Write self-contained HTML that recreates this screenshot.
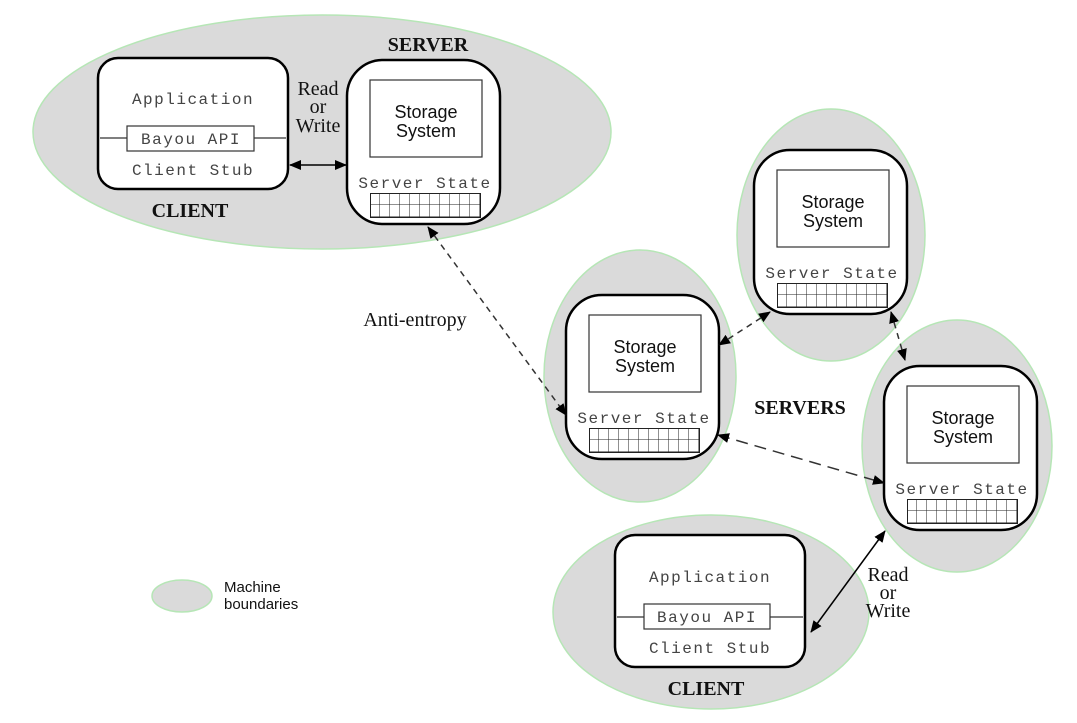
<!DOCTYPE html>
<html><head><meta charset="utf-8"><style>
html,body{margin:0;padding:0;background:#fff;}
svg{display:block;}
.mono{font-family:"Liberation Mono",monospace;font-size:16px;letter-spacing:1.5px;fill:#444;}
.sans{font-family:"Liberation Sans",sans-serif;font-size:18px;fill:#111;}
.serif{font-family:"Liberation Serif",serif;font-size:20px;fill:#111;}
.bold{font-family:"Liberation Serif",serif;font-size:20px;font-weight:bold;fill:#111;}
</style></head><body>
<svg width="1077" height="723" viewBox="0 0 1077 723" xmlns="http://www.w3.org/2000/svg">
<defs>
<pattern id="g" width="10" height="12" patternUnits="userSpaceOnUse">
<path d="M10 0V12M0 12H10" stroke="#222" stroke-width="1" fill="none"/>
</pattern>
<marker id="ah" viewBox="0 0 12 10" refX="11" refY="5" markerWidth="12" markerHeight="10" markerUnits="userSpaceOnUse" orient="auto-start-reverse">
<path d="M0 0L12 5L0 10z" fill="#000"/>
</marker>
</defs>
<g fill="#dadada" stroke="#b6e6b6" stroke-width="1.5">
<ellipse cx="322" cy="132" rx="289" ry="117"/>
<ellipse cx="831" cy="235" rx="94" ry="126"/>
<ellipse cx="640" cy="376" rx="96" ry="126"/>
<ellipse cx="957" cy="446" rx="95" ry="126"/>
<ellipse cx="711" cy="612" rx="158" ry="97"/>
<ellipse cx="182" cy="596" rx="30" ry="16"/>
</g>
<rect x="98" y="58" width="190" height="131" rx="20" fill="#fff" stroke="#000" stroke-width="2.5"/>
<line x1="100" y1="138" x2="286" y2="138" stroke="#333" stroke-width="1.2"/>
<rect x="127" y="126" width="127" height="25" fill="#fff" stroke="#333" stroke-width="1.2"/>
<text class="mono" x="193" y="104" text-anchor="middle">Application</text>
<text class="mono" x="191" y="144" text-anchor="middle">Bayou API</text>
<text class="mono" x="193" y="175" text-anchor="middle">Client Stub</text>
<text class="bold" x="190" y="217" text-anchor="middle">CLIENT</text>
<text class="bold" x="428" y="51" text-anchor="middle">SERVER</text>
<text class="serif" x="318" y="95" text-anchor="middle">Read</text>
<text class="serif" x="318" y="113" text-anchor="middle">or</text>
<text class="serif" x="318" y="132" text-anchor="middle">Write</text>
<line x1="290" y1="165" x2="346" y2="165" stroke="#000" stroke-width="1.5" marker-start="url(#ah)" marker-end="url(#ah)"/>
<g id="srv">
<rect x="347" y="60" width="153" height="164" rx="36" fill="#fff" stroke="#000" stroke-width="2.5"/>
<rect x="370" y="80" width="112" height="77" fill="#fff" stroke="#333" stroke-width="1.2"/>
<text class="sans" x="426" y="118" text-anchor="middle">Storage</text>
<text class="sans" x="426" y="137" text-anchor="middle">System</text>
<text class="mono" x="425" y="188" text-anchor="middle">Server State</text>
<svg x="370" y="193" width="111" height="25"><rect x="0.5" y="0.5" width="110" height="24" fill="url(#g)" stroke="#222" stroke-width="1"/></svg>
</g>
<use href="#srv" transform="translate(407,90)"/>
<use href="#srv" transform="translate(219,235)"/>
<use href="#srv" transform="translate(537,306)"/>
<text class="bold" x="800" y="414" text-anchor="middle">SERVERS</text>
<rect x="615" y="535" width="190" height="132" rx="20" fill="#fff" stroke="#000" stroke-width="2.5"/>
<line x1="617" y1="617" x2="803" y2="617" stroke="#333" stroke-width="1.2"/>
<rect x="644" y="604" width="126" height="25" fill="#fff" stroke="#333" stroke-width="1.2"/>
<text class="mono" x="710" y="582" text-anchor="middle">Application</text>
<text class="mono" x="707" y="622" text-anchor="middle">Bayou API</text>
<text class="mono" x="710" y="653" text-anchor="middle">Client Stub</text>
<text class="bold" x="706" y="695" text-anchor="middle">CLIENT</text>
<text class="serif" x="888" y="581" text-anchor="middle">Read</text>
<text class="serif" x="888" y="599" text-anchor="middle">or</text>
<text class="serif" x="888" y="617" text-anchor="middle">Write</text>
<line x1="811" y1="632" x2="885" y2="531" stroke="#000" stroke-width="1.5" marker-start="url(#ah)" marker-end="url(#ah)"/>
<g stroke="#333" stroke-width="1.5" stroke-dasharray="6,5" fill="none">
<line x1="428" y1="227" x2="566" y2="415" marker-start="url(#ah)" marker-end="url(#ah)"/>
<line x1="719" y1="345" x2="770" y2="312" marker-start="url(#ah)" marker-end="url(#ah)"/>
<line x1="891" y1="312" x2="905" y2="360" marker-start="url(#ah)" marker-end="url(#ah)"/>
<line x1="718" y1="435" x2="884" y2="483" stroke-dasharray="12,7" marker-start="url(#ah)" marker-end="url(#ah)"/>
</g>
<text class="serif" x="415" y="326" text-anchor="middle">Anti-entropy</text>
<text class="sans" x="224" y="592" style="font-size:15px">Machine</text>
<text class="sans" x="224" y="609" style="font-size:15px">boundaries</text>
</svg>
</body></html>
